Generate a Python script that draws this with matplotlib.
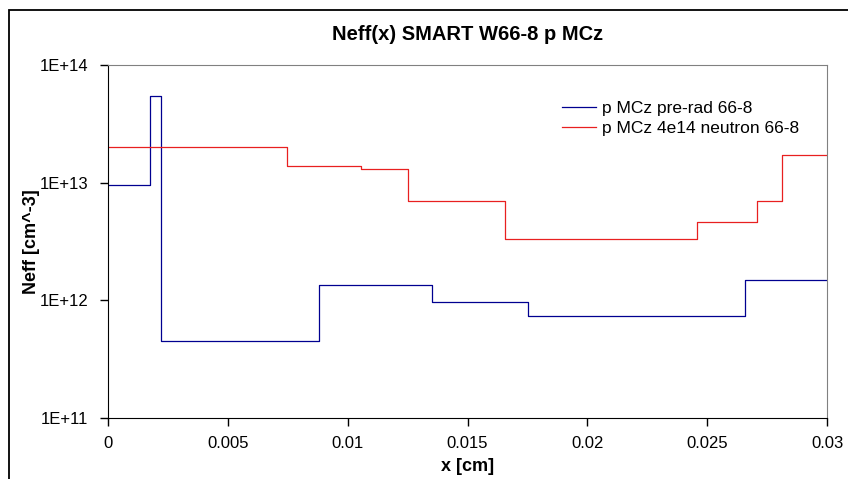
import math
import matplotlib.pyplot as plt
import matplotlib.ticker as mticker
from matplotlib.patches import Rectangle

plt.rcParams['font.family'] = ['Liberation Sans', 'DejaVu Sans']

# Step profiles: edges along x [cm] and Neff level on each segment
pre_x = [0, 0.00175, 0.0022, 0.00882, 0.01351, 0.01754, 0.02659, 0.03]
pre_neff = [9.6e12, 5.5e13, 4.55e11, 1.36e12, 9.6e11, 7.3e11, 1.5e12]

irr_x = [0, 0.00746, 0.01056, 0.01253, 0.01657, 0.02457, 0.02707, 0.02812, 0.03]
irr_neff = [2.0e13, 1.39e13, 1.30e13, 7.0e12, 3.3e12, 4.63e12, 7.0e12, 1.72e13]

x_ticks = [0, 0.005, 0.01, 0.015, 0.02, 0.025, 0.03]
y_ticks = [1e11, 1e12, 1e13, 1e14]

fig = plt.figure(figsize=(8.48, 4.79), dpi=100)
ax = fig.add_axes([108 / 848, 1 - 418 / 479, 719 / 848, 353 / 479])

ax.step(pre_x, pre_neff + [pre_neff[-1]], where='post', color='#000090',
        linewidth=0.9, label='p MCz pre-rad 66-8')
ax.step(irr_x, irr_neff + [irr_neff[-1]], where='post', color='#e82020',
        linewidth=0.9, label='p MCz 4e14 neutron 66-8')

ax.set_yscale('log')
ax.set_xlim(0, 0.03)
ax.set_ylim(1e11, 1e14)
ax.set_xticks(x_ticks)
ax.xaxis.set_major_formatter(mticker.FuncFormatter(lambda v, p: '%g' % v))
ax.set_yticks(y_ticks)
ax.yaxis.set_major_formatter(
    mticker.FuncFormatter(lambda v, p: '1E+%02d' % round(math.log10(v))))
ax.yaxis.set_minor_locator(mticker.NullLocator())
ax.tick_params(axis='both', direction='out', length=6, width=1, labelsize=12)
ax.tick_params(axis='x', pad=7)
ax.tick_params(axis='y', pad=8)

for side in ['top', 'right']:
    ax.spines[side].set_color('#808080')
for side in ['left', 'bottom']:
    ax.spines[side].set_color('black')

ax.set_title('Neff(x) SMART W66-8 p MCz', fontsize=14.5, fontweight='bold', pad=18)
ax.set_xlabel('x [cm]', fontsize=13, fontweight='bold', labelpad=5)
ax.set_ylabel('Neff [cm^-3]', fontsize=13, fontweight='bold', labelpad=0)

ax.legend(loc='upper left', bbox_to_anchor=(0.631, 0.898), frameon=False,
          fontsize=12.5, handlelength=2.0, handletextpad=0.3,
          labelspacing=0.25, borderpad=0, borderaxespad=0)

# outer chart border
fig.add_artist(Rectangle((9 / 848, -0.1), 1.2, 1.1 - 10 / 479,
                         transform=fig.transFigure, fill=False,
                         edgecolor='black', linewidth=1.3))

fig.savefig('out.png', dpi=100)
